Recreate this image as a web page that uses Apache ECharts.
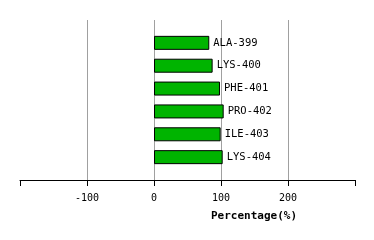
<!DOCTYPE html>
<html>
<head>
<meta charset="utf-8">
<script src="https://cdn.jsdelivr.net/npm/echarts@6/dist/echarts.min.js"></script>
<style>html,body{margin:0;padding:0;background:#fff;}#c{width:374px;height:240px;}</style>
</head>
<body>
<div id="c"></div>
<script>
const categories = ['', 'ALA-399', 'LYS-400', 'PHE-401', 'PRO-402', 'ILE-403', 'LYS-404', ''];
const values = ['-', 82.5, 87.5, 98.5, 104, 99.5, 102.5, '-'];
const tickValues = [-100, 0, 100, 200];

const chart = echarts.init(document.getElementById('c'), null, {renderer: 'canvas'});
const font = 'DejaVu Sans Mono';
chart.setOption({
  animation: false,
  backgroundColor: '#ffffff',
  grid: {left: 20, right: 19, top: 20, bottom: 60, containLabel: false},
  xAxis: {
    type: 'value', min: -200, max: 300, interval: 100,
    axisLine: {show: true, onZero: false, lineStyle: {color: '#000', width: 1}},
    axisTick: {show: true, length: 6, lineStyle: {color: '#000', width: 1}},
    axisLabel: {show: true, color: '#000', fontFamily: font, fontSize: 10, margin: 13, customValues: tickValues},
    splitLine: {show: true, showMinLine: false, showMaxLine: false, lineStyle: {color: '#a0a0a0', width: 1}},
    name: 'Percentage(%)', nameLocation: 'middle', nameGap: 31,
    nameTextStyle: {color: '#000', fontFamily: font, fontSize: 11, fontWeight: 'bold', padding: [0, 0, 0, 133]}
  },
  yAxis: {
    type: 'category', data: categories, inverse: true, boundaryGap: false,
    axisLine: {show: false}, axisTick: {show: false}, axisLabel: {show: false}, splitLine: {show: false}
  },
  series: [{
    type: 'bar', data: values, barWidth: 14,
    itemStyle: {color: '#00b400', borderColor: '#000', borderWidth: 1},
    label: {show: true, position: 'right', distance: 4, formatter: '{b}', color: '#000', fontFamily: font, fontSize: 10.5}
  }]
});
</script>
</body>
</html>
